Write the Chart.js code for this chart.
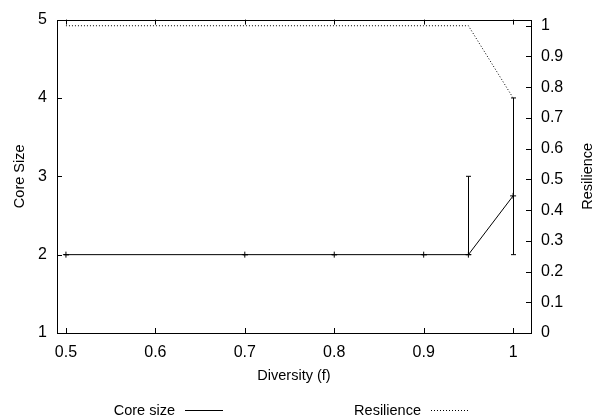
<!DOCTYPE html>
<html>
<head>
<meta charset="utf-8">
<script src="https://cdn.jsdelivr.net/npm/chart.js@4"></script>
<style>
  html, body { margin: 0; padding: 0; background: #fff; }
</style>
</head>
<body>
<canvas id="chart" width="597" height="417"></canvas>
<script>
// values
const diversity = [0.5, 0.7, 0.8, 0.9, 0.95, 1.0];
const coreSize = [2, 2, 2, 2, 2, 2.75];
const coreLow = [2, 2, 2, 2, 2, 2];
const coreHigh = [2, 2, 2, 2, 3, 4];
const resilience = [1, 1, 1, 1, 1, 0.765];

const xTicks = [0.5, 0.6, 0.7, 0.8, 0.9, 1];
const coreTicks = [1, 2, 3, 4, 5];
const resTicks = [0, 0.1, 0.2, 0.3, 0.4, 0.5, 0.6, 0.7, 0.8, 0.9, 1];

const FONT = '"Liberation Sans", Arial, sans-serif';
Chart.defaults.font.family = FONT;
Chart.defaults.font.size = 14.5;
Chart.defaults.color = "#000";

const TICK = 5;
const tickFont = { size: 16 };

// gnuplot-like frame, inward ticks, error bars, right title and key
const gnuplotLook = {
  id: "gnuplotLook",
  afterDatasetsDraw(chart) {
    const ctx = chart.ctx;
    const x = chart.scales.x;
    const y = chart.scales.y;
    ctx.save();
    ctx.strokeStyle = "#000";
    ctx.lineWidth = 1;
    for (let i = 0; i < diversity.length; i++) {
      const px = Math.round(x.getPixelForValue(diversity[i])) + 0.5;
      const lo = y.getPixelForValue(coreLow[i]);
      const hi = y.getPixelForValue(coreHigh[i]);
      ctx.beginPath();
      ctx.moveTo(px, lo);
      ctx.lineTo(px, hi);
      ctx.moveTo(px - 2.5, lo);
      ctx.lineTo(px + 2.5, lo);
      ctx.moveTo(px - 2.5, hi);
      ctx.lineTo(px + 2.5, hi);
      ctx.stroke();
    }
    ctx.restore();
  },
  afterDraw(chart) {
    const ctx = chart.ctx;
    const a = chart.chartArea;
    const x = chart.scales.x;
    const y = chart.scales.y;
    const y2 = chart.scales.y2;
    ctx.save();
    ctx.strokeStyle = "#000";
    ctx.lineWidth = 1;
    ctx.strokeRect(Math.round(a.left) + 0.5, Math.round(a.top) + 0.5,
      Math.round(a.right - a.left), Math.round(a.bottom - a.top));

    ctx.beginPath();
    xTicks.forEach(v => {
      const px = Math.round(x.getPixelForValue(v)) + 0.5;
      ctx.moveTo(px, a.bottom);
      ctx.lineTo(px, a.bottom - TICK);
      ctx.moveTo(px, a.top);
      ctx.lineTo(px, a.top + TICK);
    });
    coreTicks.forEach(v => {
      const py = Math.round(y.getPixelForValue(v)) + 0.5;
      ctx.moveTo(a.left, py);
      ctx.lineTo(a.left + TICK, py);
    });
    resTicks.forEach(v => {
      const py = Math.round(y2.getPixelForValue(v)) + 0.5;
      ctx.moveTo(a.right, py);
      ctx.lineTo(a.right - TICK, py);
    });
    ctx.stroke();

    ctx.fillStyle = "#000";
    ctx.font = "14.5px " + FONT;
    ctx.textBaseline = "middle";

    // right axis title, reading bottom to top
    ctx.save();
    ctx.translate(588, (a.top + a.bottom) / 2);
    ctx.rotate(-Math.PI / 2);
    ctx.textAlign = "center";
    ctx.fillText("Resilience", 0, 0);
    ctx.restore();

    // key below the plot
    const ky = 410.5;
    ctx.textAlign = "right";
    ctx.fillText("Core size", 175, ky);
    ctx.fillText("Resilience", 421, ky);
    ctx.beginPath();
    ctx.moveTo(185, ky);
    ctx.lineTo(223, ky);
    ctx.stroke();
    ctx.setLineDash([1, 2]);
    ctx.beginPath();
    ctx.moveTo(431, ky);
    ctx.lineTo(469, ky);
    ctx.stroke();
    ctx.restore();
  }
};

const ctx = document.getElementById("chart").getContext("2d");

new Chart(ctx, {
  type: "line",
  data: {
    datasets: [
      {
        label: "Core size",
        data: diversity.map((d, i) => ({ x: d, y: coreSize[i] })),
        yAxisID: "y",
        borderColor: "#000",
        borderWidth: 1,
        pointStyle: "cross",
        pointRadius: 3,
        pointBorderWidth: 1,
        pointBorderColor: "#000",
        tension: 0
      },
      {
        label: "Resilience",
        data: diversity.map((d, i) => ({ x: d, y: resilience[i] })),
        yAxisID: "y2",
        borderColor: "#000",
        borderWidth: 1,
        borderDash: [1, 2],
        pointRadius: 0,
        tension: 0
      }
    ]
  },
  options: {
    responsive: false,
    animation: false,
    layout: { padding: { top: 15, bottom: 30, left: 0, right: 0 } },
    plugins: {
      legend: { display: false },
      tooltip: { enabled: false }
    },
    scales: {
      x: {
        type: "linear",
        min: 0.49,
        max: 1.02,
        afterBuildTicks: s => { s.ticks = xTicks.map(v => ({ value: v })); },
        afterFit: s => { s.height = 54; },
        grid: { display: false, drawTicks: false },
        border: { display: false },
        ticks: { font: tickFont, padding: 10, maxRotation: 0, autoSkip: false, callback: v => String(v) },
        title: { display: true, text: "Diversity (f)", padding: { top: 0, bottom: 2 } }
      },
      y: {
        position: "left",
        min: 1,
        max: 5,
        afterBuildTicks: s => { s.ticks = coreTicks.map(v => ({ value: v })); },
        afterFit: s => { s.width = 57; },
        grid: { display: false, drawTicks: false },
        border: { display: false },
        ticks: { font: tickFont, padding: 10, callback: v => String(v) },
        title: { display: true, text: "Core Size", padding: { top: 11, bottom: 0 } }
      },
      y2: {
        position: "right",
        min: 0,
        max: 1.02,
        afterBuildTicks: s => { s.ticks = resTicks.map(v => ({ value: v })); },
        afterFit: s => { s.width = 66; },
        grid: { display: false, drawTicks: false },
        border: { display: false },
        ticks: { font: tickFont, padding: 10, callback: v => String(Math.round(v * 10) / 10) }
      }
    }
  },
  plugins: [gnuplotLook]
});
</script>
</body>
</html>
